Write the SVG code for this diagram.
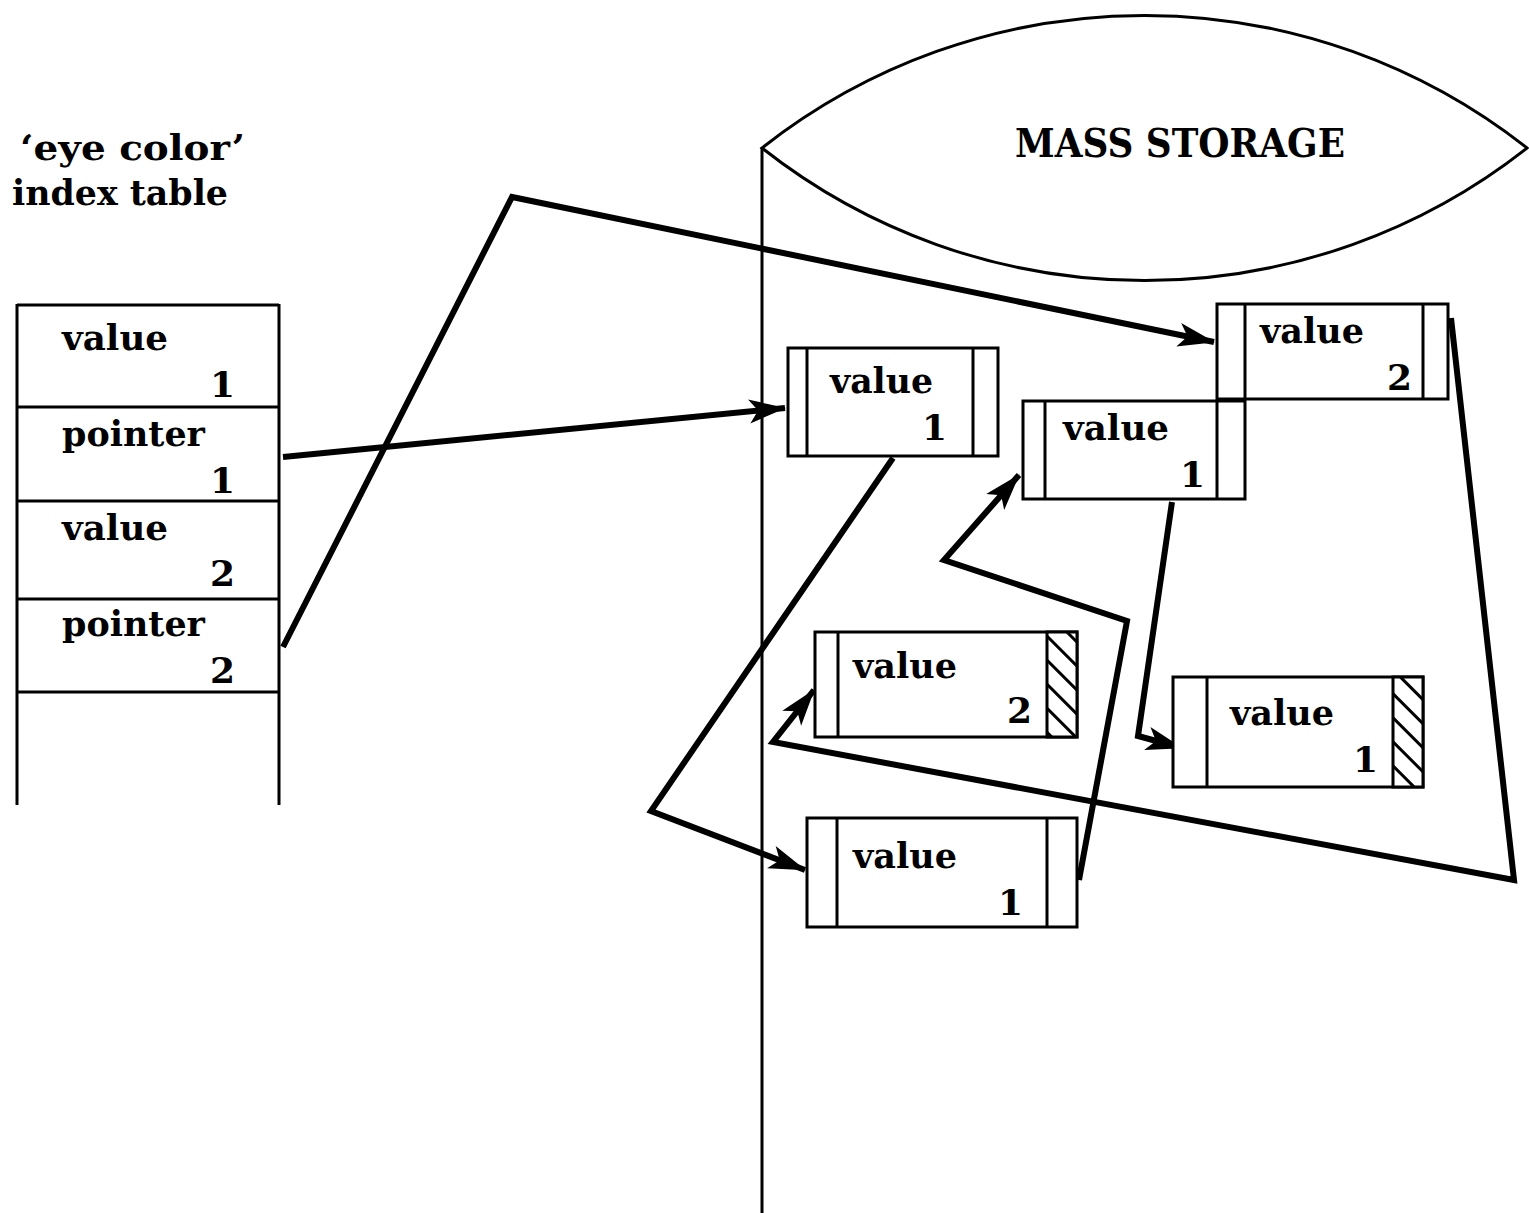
<svg xmlns="http://www.w3.org/2000/svg" width="1529" height="1213" viewBox="0 0 1529 1213">
<style>
  .t { font-family: "DejaVu Serif", "Liberation Serif", serif; font-weight: bold; font-size: 36px; fill: #000; }
  .title { font-family: "DejaVu Serif", "Liberation Serif", serif; font-weight: bold; font-size: 36px; fill: #000; }
  .ms { font-family: "DejaVu Serif", "Liberation Serif", serif; font-weight: bold; font-size: 40px; fill: #000; }
  .thin { fill: none; stroke: #000; stroke-width: 3; }
  .box { fill: #fff; stroke: #000; stroke-width: 3; }
  .conn { fill: none; stroke: #000; stroke-width: 6; stroke-linejoin: miter; marker-end: url(#ah); }
</style>
<defs>
  <marker id="ah" markerUnits="userSpaceOnUse" markerWidth="42" markerHeight="30" viewBox="-40 -15 42 30" refX="0" refY="0" orient="auto">
    <path d="M1,0 L-36,-12 L-27,0 L-36,12 Z" fill="#000"/>
  </marker>
  <pattern id="hatch" patternUnits="userSpaceOnUse" width="17" height="17" patternTransform="rotate(-45)">
    <rect width="17" height="17" fill="#fff"/>
    <line x1="1.5" y1="0" x2="1.5" y2="17" stroke="#000" stroke-width="3"/>
  </pattern>
</defs>
<rect width="1529" height="1213" fill="#fff"/>

<g id="index-table">
  <text class="title" x="20" y="160" textLength="225" lengthAdjust="spacingAndGlyphs">‘eye color’</text>
  <text class="title" x="12" y="205" textLength="216" lengthAdjust="spacingAndGlyphs">index table</text>
  <line class="thin" x1="17" y1="304" x2="17" y2="805"/>
  <line class="thin" x1="279" y1="304" x2="279" y2="805"/>
  <line class="thin" x1="17" y1="305" x2="279" y2="305"/>
  <line class="thin" x1="17" y1="407" x2="279" y2="407"/>
  <line class="thin" x1="17" y1="501" x2="279" y2="501"/>
  <line class="thin" x1="17" y1="599" x2="279" y2="599"/>
  <line class="thin" x1="17" y1="692" x2="279" y2="692"/>
  <text class="t" x="62" y="350" textLength="106" lengthAdjust="spacingAndGlyphs">value</text>
  <text class="t" x="235" y="397" text-anchor="end">1</text>
  <text class="t" x="62" y="446" textLength="143" lengthAdjust="spacingAndGlyphs">pointer</text>
  <text class="t" x="235" y="493" text-anchor="end">1</text>
  <text class="t" x="62" y="540" textLength="106" lengthAdjust="spacingAndGlyphs">value</text>
  <text class="t" x="235" y="586" text-anchor="end">2</text>
  <text class="t" x="62" y="636" textLength="143" lengthAdjust="spacingAndGlyphs">pointer</text>
  <text class="t" x="235" y="683" text-anchor="end">2</text>
</g>

<g id="mass-storage">
  <path class="thin" d="M762,148 A618,618 0 0,1 1527,148 A618,618 0 0,1 762,148 Z"/>
  <line class="thin" x1="762" y1="148" x2="762" y2="1213"/>
  <text class="ms" x="1015" y="157" textLength="330" lengthAdjust="spacingAndGlyphs">MASS STORAGE</text>
</g>

<g id="connectors">
  <path class="conn" d="M283,457 L785,408"/>
  <path class="conn" d="M283,647 L512,197 L1214,342"/>
  <path class="conn" d="M893,458 L651,811 L805,870"/>
  <path class="conn" d="M1079,880 L1127,621 L944,560 L1019,475"/>
  <path class="conn" d="M1172,502 L1138,736 L1182,748"/>
  <path class="conn" d="M1451,318 L1514,880 L773,742 L814,690"/>
</g>

<g id="rec-a">
  <rect class="box" x="788" y="348" width="210" height="108"/>
  <line class="thin" x1="807" y1="348" x2="807" y2="456"/>
  <line class="thin" x1="973" y1="348" x2="973" y2="456"/>
  <text class="t" x="830" y="393" textLength="103" lengthAdjust="spacingAndGlyphs">value</text>
  <text class="t" x="947" y="440" text-anchor="end">1</text>
</g>

<g id="rec-c">
  <rect class="box" x="1217" y="304" width="231" height="95"/>
  <line class="thin" x1="1245" y1="304" x2="1245" y2="399"/>
  <line class="thin" x1="1423" y1="304" x2="1423" y2="399"/>
  <text class="t" x="1260" y="343" textLength="104" lengthAdjust="spacingAndGlyphs">value</text>
  <text class="t" x="1412" y="390" text-anchor="end">2</text>
</g>

<g id="rec-b">
  <rect class="box" x="1023" y="401" width="222" height="98"/>
  <line class="thin" x1="1045" y1="401" x2="1045" y2="499"/>
  <line class="thin" x1="1217" y1="401" x2="1217" y2="499"/>
  <text class="t" x="1063" y="440" textLength="106" lengthAdjust="spacingAndGlyphs">value</text>
  <text class="t" x="1205" y="487" text-anchor="end">1</text>
</g>

<g id="rec-d">
  <rect class="box" x="815" y="632" width="262" height="105"/>
  <rect x="1047" y="632" width="30" height="105" fill="url(#hatch)" stroke="#000" stroke-width="3"/>
  <line class="thin" x1="838" y1="632" x2="838" y2="737"/>
  <text class="t" x="853" y="678" textLength="104" lengthAdjust="spacingAndGlyphs">value</text>
  <text class="t" x="1032" y="723" text-anchor="end">2</text>
</g>

<g id="rec-e">
  <rect class="box" x="807" y="818" width="270" height="109"/>
  <line class="thin" x1="837" y1="818" x2="837" y2="927"/>
  <line class="thin" x1="1047" y1="818" x2="1047" y2="927"/>
  <text class="t" x="853" y="868" textLength="104" lengthAdjust="spacingAndGlyphs">value</text>
  <text class="t" x="1023" y="915" text-anchor="end">1</text>
</g>

<g id="rec-f">
  <rect class="box" x="1173" y="677" width="250" height="110"/>
  <rect x="1393" y="677" width="30" height="110" fill="url(#hatch)" stroke="#000" stroke-width="3"/>
  <line class="thin" x1="1207" y1="677" x2="1207" y2="787"/>
  <text class="t" x="1230" y="725" textLength="104" lengthAdjust="spacingAndGlyphs">value</text>
  <text class="t" x="1378" y="772" text-anchor="end">1</text>
</g>
</svg>
